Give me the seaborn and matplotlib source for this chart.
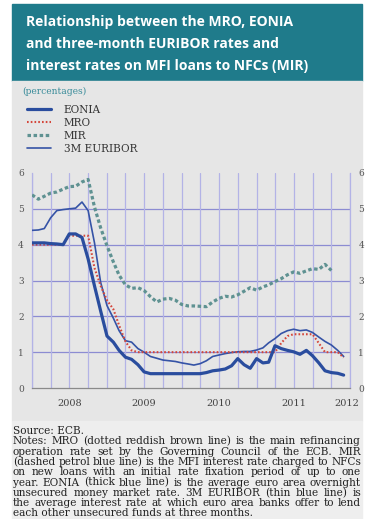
import matplotlib
matplotlib.use("Agg")
import matplotlib.pyplot as plt
import matplotlib.dates as mdates
from matplotlib.patches import Rectangle
import numpy as np
import pandas as pd
import seaborn as sns

# ---------------- data (monthly, Jan 2008 onwards) ----------------
start_month = "2008-01-01"
eonia = [4.05, 4.05, 4.05, 4.03, 4.02, 4.00, 4.30, 4.30, 4.20, 3.60,
         2.85, 2.15, 1.45, 1.28, 1.05, 0.86, 0.80, 0.65, 0.45,
         0.40, 0.40, 0.40, 0.40, 0.40, 0.40, 0.40, 0.40, 0.40,
         0.43, 0.48, 0.50, 0.53, 0.62, 0.82, 0.65, 0.55, 0.82, 0.70, 0.72,
         1.18, 1.10, 1.05, 1.01, 0.94, 1.05, 0.90, 0.70, 0.48, 0.43, 0.41, 0.36]
mro = [4.00, 4.00, 4.00, 4.00, 4.00, 4.00, 4.25, 4.25, 4.25, 4.25,
       3.35, 2.85, 2.45, 2.20, 1.75, 1.30, 1.05,
       1.00, 1.00, 1.00, 1.00, 1.00, 1.00, 1.00, 1.00, 1.00, 1.00, 1.00, 1.00,
       1.00, 1.00, 1.00, 1.00, 1.00, 1.00, 1.00, 1.00, 1.00, 1.00, 1.00,
       1.25, 1.45, 1.50, 1.50, 1.50, 1.50, 1.25, 1.00, 1.00, 1.00, 0.85]
mir = [5.39, 5.27, 5.35, 5.44, 5.47, 5.55, 5.62, 5.63, 5.75, 5.82,
       5.05, 4.47, 3.97, 3.52, 3.15, 2.88, 2.78, 2.80, 2.72, 2.55,
       2.40, 2.48, 2.50, 2.45, 2.33, 2.29, 2.29, 2.28, 2.27, 2.40,
       2.50, 2.56, 2.54, 2.60, 2.70, 2.80, 2.73, 2.82, 2.88, 2.97,
       3.05, 3.16, 3.24, 3.20, 3.27, 3.33, 3.31, 3.45, 3.28]
euribor = [4.40, 4.41, 4.45, 4.75, 4.95, 4.98, 5.00, 5.02, 5.19, 4.95,
           4.05, 2.95, 2.30, 1.95, 1.60, 1.32, 1.28,
           1.10, 1.00, 0.88, 0.83, 0.78, 0.76, 0.74, 0.70, 0.67, 0.64, 0.68,
           0.76, 0.88, 0.92, 0.96, 0.99, 1.01,
           1.02, 1.02, 1.06, 1.12, 1.26, 1.38, 1.52, 1.60, 1.64, 1.60, 1.62,
           1.55, 1.42, 1.30, 1.20, 1.05, 0.88]
year_labels = ["2008", "2009", "2010", "2011", "2012"]
y_ticks = [0, 1, 2, 3, 4, 5, 6]

title_lines = ["Relationship between the MRO, EONIA",
               "and three-month EURIBOR rates and",
               "interest rates on MFI loans to NFCs (MIR)"]
notes_lines = [
    "Source: ECB.",
    "Notes: MRO (dotted reddish brown line) is the main refinancing",
    "operation rate set by the Governing Council of the ECB. MIR",
    "(dashed petrol blue line) is the MFI interest rate charged to NFCs",
    "on new loans with an initial rate fixation period of up to one",
    "year. EONIA (thick blue line) is the average euro area overnight",
    "unsecured money market rate. 3M EURIBOR (thin blue line) is",
    "the average interest rate at which euro area banks offer to lend",
    "each other unsecured funds at three months.",
]

def series(vals, name):
    d = pd.date_range(start_month, periods=len(vals), freq="MS")
    return pd.DataFrame({"date": d, "rate": vals, "series": name})

# ---------------- figure ----------------
W, H = 368, 519
sns.set_theme(style="white")
plt.rcParams["font.family"] = ["DejaVu Sans"]
SERIF = "DejaVu Serif"
fig = plt.figure(figsize=(W / 100, H / 100), dpi=100)
fig.patch.set_facecolor("white")

def fx(x): return x / W
def fy(y): return 1 - y / H

# background blocks
for (xa, ya, xb, yb, col) in [(12, 4, 362, 81, "#1f7b8b"),
                              (12, 81, 362, 421, "#e6e6e6"),
                              (12, 421, 362, 519, "#eeeeee")]:
    fig.patches.append(Rectangle((fx(xa), fy(yb)), fx(xb) - fx(xa), fy(ya) - fy(yb),
                                 transform=fig.transFigure, color=col, zorder=-10))

# title
for i, line in enumerate(title_lines):
    fig.text(fx(26), fy(22 + 22 * i), line, color="white", fontsize=10,
             fontweight="bold", family=["Open Sans", "DejaVu Sans"],
             va="center", ha="left")

fig.text(fx(22), fy(91), "(percentages)", color="#3a8c9a", fontsize=6.6,
         family=SERIF, va="center", ha="left")

# axes
ax = fig.add_axes([fx(32), fy(388), fx(350) - fx(32), fy(173) - fy(388)])
ax.set_facecolor("#e6e6e6")
ax.set_zorder(1)

styles = {
    "MIR": dict(color="#5f9292", lw=2.3, ls=(0, (1.1, 0.8))),
    "3M EURIBOR": dict(color="#3553a6", lw=1.2, ls="-"),
    "MRO": dict(color="#d4463a", lw=1.5, ls=(0, (0.8, 1.0))),
    "EONIA": dict(color="#2a4d9e", lw=2.3, ls="-"),
}
data = {"MIR": mir, "3M EURIBOR": euribor, "MRO": mro, "EONIA": eonia}
lines = {}
for z, (name, vals) in enumerate(data.items()):
    st = styles[name]
    sns.lineplot(data=series(vals, name), x="date", y="rate", ax=ax,
                 color=st["color"], linewidth=st["lw"], linestyle=st["ls"],
                 label=name, legend=False, zorder=3 + z)
    lines[name] = ax.get_lines()[-1]

x0 = pd.Timestamp("2008-01-01")
x1 = pd.Timestamp("2012-04-01")
ax.set_xlim(x0, x1)
ax.set_ylim(0, 6)
ax.set_xlabel("")
ax.set_ylabel("")

# grid
for v in y_ticks[1:-1]:
    ax.axhline(v, color="#8c8cd2", lw=0.9, zorder=1)
for d in pd.date_range(x0, x1, freq="QS"):
    ax.axvline(d, color="#b3b3e6", lw=0.9, zorder=1)

ax.spines["top"].set_visible(False)
for s in ["left", "right"]:
    ax.spines[s].set_color("#b3b3e6")
    ax.spines[s].set_linewidth(0.9)
ax.spines["bottom"].set_color("#8a8a8a")
ax.spines["bottom"].set_linewidth(0.9)

ax.set_yticks(y_ticks)
ax.tick_params(axis="y", which="both", length=0, labelsize=6.5, labelcolor="#555555",
               left=True, right=True, labelleft=True, labelright=True, pad=6)
for lab in ax.get_yticklabels():
    lab.set_family(SERIF)

ax.xaxis.set_major_locator(mdates.YearLocator())
ax.xaxis.set_minor_locator(mdates.MonthLocator(bymonth=[1, 4, 7, 10]))
ax.xaxis.set_major_formatter(plt.NullFormatter())
ax.tick_params(axis="x", which="major", length=5, width=0.9, color="#8a8a8a", direction="inout")
ax.tick_params(axis="x", which="minor", length=3, width=0.8, color="#8a8a8a", direction="inout")

label_pos = [pd.Timestamp(f"{y}-07-01") for y in year_labels[:-1]] + [pd.Timestamp("2012-03-15")]
for lab, d in zip(year_labels, label_pos):
    ax.text(d, -0.42, lab, ha="center", va="center", fontsize=7, color="#444444",
            family=SERIF, clip_on=False)

# legend
order = ["EONIA", "MRO", "MIR", "3M EURIBOR"]
leg = fig.legend([lines[n] for n in order], order, loc="upper left",
                 bbox_to_anchor=(fx(27), fy(105)), frameon=False,
                 prop={"family": SERIF, "size": 7.6},
                 handlelength=2.3, handletextpad=1.2, labelspacing=0.28,
                 borderpad=0, borderaxespad=0)
for t in leg.get_texts():
    t.set_color("#333333")

# notes (justified)
renderer = fig.canvas.get_renderer()
nkw = dict(fontsize=7.6, family=SERIF, color="#222222", va="baseline")
left_px, right_px = 13, 361
for i, line in enumerate(notes_lines):
    ybase = 434 + 10.3 * i
    if i == 0 or i == len(notes_lines) - 1:
        fig.text(fx(left_px), fy(ybase), line, **nkw)
        continue
    words = line.split()
    widths = []
    for w in words:
        t = fig.text(0, 0, w, **nkw)
        widths.append(t.get_window_extent(renderer).width)
        t.remove()
    gap = (right_px - left_px - sum(widths)) / (len(words) - 1)
    x = left_px
    for w, wd in zip(words, widths):
        fig.text(fx(x), fy(ybase), w, **nkw)
        x += wd + gap

fig.savefig("out.png", dpi=100)
